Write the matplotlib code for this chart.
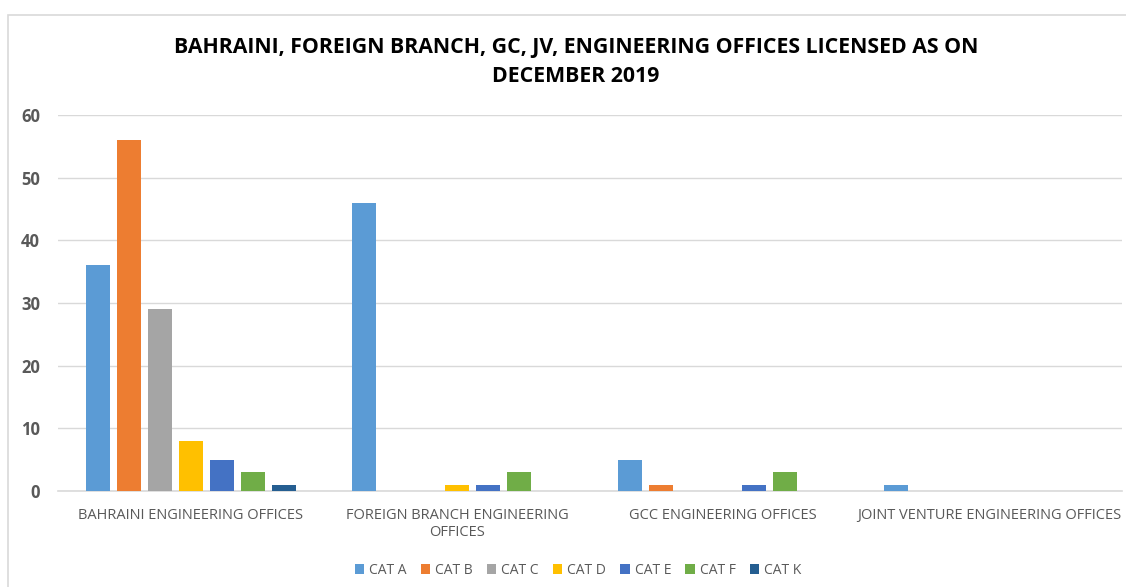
import matplotlib.pyplot as plt
from matplotlib.patches import Rectangle
import numpy as np

categories = ['BAHRAINI ENGINEERING OFFICES', 'FOREIGN BRANCH ENGINEERING\nOFFICES',
              'GCC ENGINEERING OFFICES', 'JOINT VENTURE ENGINEERING OFFICES']
series = ['CAT A', 'CAT B', 'CAT C', 'CAT D', 'CAT E', 'CAT F', 'CAT K']
cat_a = [36, 46, 5, 1]
cat_b = [56, 0, 1, 0]
cat_c = [29, 0, 0, 0]
cat_d = [8, 1, 0, 0]
cat_e = [5, 1, 1, 0]
cat_f = [3, 3, 3, 0]
cat_k = [1, 0, 0, 0]
values = [cat_a, cat_b, cat_c, cat_d, cat_e, cat_f, cat_k]
colors = ['#5B9BD5', '#ED7D31', '#A5A5A5', '#FFC000', '#4472C4', '#70AD47', '#255E91']

fig = plt.figure(figsize=(11.26, 5.87), dpi=100)
ax = fig.add_axes([58 / 1126, 1 - 491 / 587, 1064 / 1126, 376 / 587])

# chart border (light gray, like the Excel chart area)
fig.patches.append(Rectangle((8 / 1126, -0.1), 1.2, 1 - 15 / 587 + 0.1, transform=fig.transFigure,
                             fill=False, edgecolor='#D9D9D9', linewidth=1.2))

x = np.arange(len(categories))
step = 31 / 266
width = 24 / 266
for j, (name, vals) in enumerate(zip(series, values)):
    ax.bar(x + (j - 3) * step, vals, width=width, color=colors[j], label=name, zorder=3)

ax.set_xlim(-0.5, 3.5)
ax.set_ylim(0, 60)
ax.set_yticks(np.arange(0, 61, 10))
ax.grid(axis='y', color='#D9D9D9', linewidth=1, zorder=0)
for s in ['top', 'right', 'left']:
    ax.spines[s].set_visible(False)
ax.spines['bottom'].set_color('#D9D9D9')
ax.spines['bottom'].set_linewidth(1.2)
ax.tick_params(axis='both', length=0)
ax.tick_params(axis='y', pad=13)
ax.tick_params(axis='x', pad=12)

ax.set_xticks(x)
ax.set_xticklabels(categories, fontsize=10.5, color='#595959', family='Open Sans')
for lbl in ax.get_yticklabels():
    lbl.set_fontsize(12)
    lbl.set_fontweight('bold')
    lbl.set_color('#595959')
    lbl.set_family('Open Sans')

title_x = 576 / 1126
fig.text(title_x, 1 - 47 / 587, 'BAHRAINI, FOREIGN BRANCH, GC, JV, ENGINEERING OFFICES LICENSED AS ON',
         ha='center', va='center', fontsize=15.3, fontweight='bold', family='Open Sans')
fig.text(title_x, 1 - 77 / 587, 'DECEMBER 2019',
         ha='center', va='center', fontsize=15.3, fontweight='bold', family='Open Sans')

leg = ax.legend(loc='center', bbox_to_anchor=((578 - 58) / 1064, -(570 - 491) / 376), ncol=7,
                frameon=False, handlelength=0.7, handleheight=0.7, handletextpad=0.35,
                columnspacing=1.0, prop={'family': 'Open Sans', 'size': 10})
for t in leg.get_texts():
    t.set_color('#595959')

fig.savefig('out.png', dpi=100)
